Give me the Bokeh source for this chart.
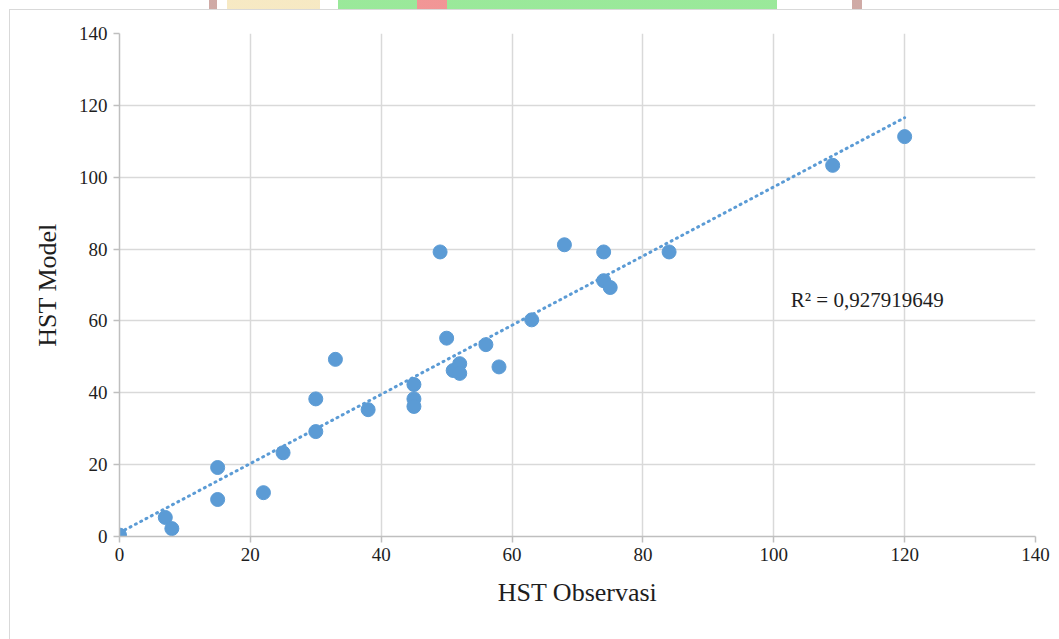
import numpy as np
from bokeh.plotting import figure
from bokeh.models import Range1d, FixedTicker, Label, InlineStyleSheet
from bokeh.embed import file_html
from bokeh.resources import INLINE

# Data
hst_observasi = [0, 7, 8, 15, 15, 22, 25, 30, 30, 33, 38, 45, 45, 45, 49, 50, 51, 52, 52,
                 56, 58, 63, 68, 74, 74, 75, 84, 109, 120]
hst_model = [0.4, 5.3, 2.2, 19.2, 10.3, 12.2, 23.3, 38.3, 29.2, 49.3, 35.3, 42.3, 38.3, 36.2,
             79.2, 55.2, 46.2, 48.1, 45.4, 53.4, 47.2, 60.3, 81.2, 79.2, 71.2, 69.3, 79.2,
             103.3, 111.3]
ticks = [0, 20, 40, 60, 80, 100, 120, 140]
r2_text = "R\u00b2 = 0,927919649"

FONT = "Liberation Serif"
BLUE = "#5b9bd5"
GRID = "#d9d9d9"
TXT = "#1e1e1e"

css = """
:host { position: relative; }
:host::after {
  content: ''; position: absolute; left: 9px; top: 9px; right: 0; bottom: 0;
  border-left: 1.5px solid #d9d9d9; border-top: 1.5px solid #d9d9d9;
  pointer-events: none; z-index: 20;
}
:host::before {
  content: ''; position: absolute; left: 209px; top: 0; width: 653px; height: 9px;
  background: linear-gradient(90deg,
    #caa19c 0px, #caa19c 8px, #ffffff 8px, #ffffff 18px,
    #f6e7bd 18px, #f6e7bd 111px, #ffffff 111px, #ffffff 129px,
    #8fe68f 129px, #8fe68f 208px, #f08a8a 208px, #f08a8a 238px,
    #8fe68f 238px, #8fe68f 568px, #ffffff 568px, #ffffff 643px,
    #caa19c 643px, #caa19c 653px);
  opacity: 0.9; pointer-events: none; z-index: 20;
}
"""

p = figure(width=1059, height=639, output_backend="svg", toolbar_location=None,
           x_range=Range1d(0, 140), y_range=Range1d(0, 140),
           min_border_left=119, min_border_right=24, min_border_top=33, min_border_bottom=103)
p.stylesheets = [InlineStyleSheet(css=css)]
p.outline_line_color = None
p.background_fill_color = "white"
p.border_fill_color = "white"

for ax in (p.xaxis[0], p.yaxis[0]):
    ax.ticker = FixedTicker(ticks=ticks)
    ax.axis_line_color = "#bfbfbf"
    ax.axis_line_width = 1.5
    ax.major_tick_line_color = "#bfbfbf"
    ax.major_tick_line_width = 1.5
    ax.major_tick_in = 0
    ax.major_tick_out = 6
    ax.minor_tick_line_color = None
    ax.major_label_text_font = FONT
    ax.major_label_text_font_size = "19px"
    ax.major_label_text_color = TXT
    ax.axis_label_text_font = FONT
    ax.axis_label_text_font_size = "26px"
    ax.axis_label_text_font_style = "normal"
    ax.axis_label_text_color = TXT

p.xaxis.axis_label = "HST Observasi"
p.yaxis.axis_label = "HST Model"
p.xaxis.major_label_standoff = 5
p.yaxis.major_label_standoff = 6
p.xaxis.axis_label_standoff = 14
p.yaxis.axis_label_standoff = 14

p.xgrid.ticker = FixedTicker(ticks=ticks)
p.ygrid.ticker = FixedTicker(ticks=ticks)
p.xgrid.grid_line_color = GRID
p.ygrid.grid_line_color = GRID
p.xgrid.grid_line_width = 1.5
p.ygrid.grid_line_width = 1.5

# Linear trendline (least squares on the data)
xs = np.array(hst_observasi, dtype=float)
ys = np.array(hst_model, dtype=float)
m, b = np.polyfit(xs, ys, 1)
x_line = np.array([xs.min(), xs.max()])
p.line(x_line, m * x_line + b, line_color=BLUE, line_width=3, line_dash="1 5", line_cap="round")

p.scatter(hst_observasi, hst_model, size=14, fill_color=BLUE, line_color=BLUE)

p.add_layout(Label(x=102.6, y=65.7, text=r2_text, text_font=FONT, text_font_size="21px",
                   text_color=TXT, text_baseline="middle"))

open("out.html", "w").write(file_html(p, INLINE))
